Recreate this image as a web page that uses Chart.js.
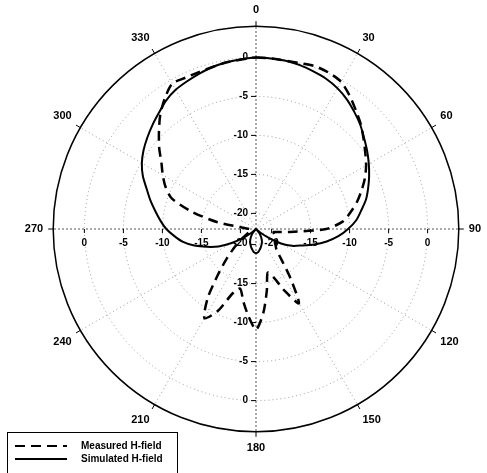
<!DOCTYPE html>
<html>
<head>
<meta charset="utf-8">
<script src="https://cdn.jsdelivr.net/npm/chart.js@4"></script>
<style>
  html, body { margin: 0; padding: 0; background: #fff; }
  #wrap { width: 487px; height: 473px; }
</style>
</head>
<body>
<div id="wrap"><canvas id="polarChart"></canvas></div>
<script>
// angle of each sample, degrees clockwise from top
const angles = [
  0, 5, 10, 15, 20, 25, 30, 35, 40, 45, 50, 55,
  60, 65, 70, 75, 80, 85, 90, 95, 100, 105, 110, 115,
  120, 125, 130, 135, 140, 145, 150, 155, 160, 165, 170, 175,
  180, 185, 190, 195, 200, 205, 210, 215, 220, 225, 230, 235,
  240, 245, 250, 255, 260, 265, 270, 275, 280, 285, 290, 295,
  300, 305, 310, 315, 320, 325, 330, 335, 340, 345, 350, 355
]
const angleTicks = [0, 30, 60, 90, 120, 150, 180, 210, 240, 270, 300, 330]
const radialTicks = [0, -5, -10, -15, -20]

// dB
const measured = [
  0, -0.05, -0.1, 0, 0.2, 0.1, -0.2, -1.1, -2.1, -3.0, -4.0, -4.9,
  -5.7, -6.6, -7.6, -8.6, -9.7, -10.8, -13.0, -17.6, -19.7, -19.6, -19.4, -19.2,
  -19.0, -18.9, -18.7, -18.3, -17.0, -14.3, -11.0, -13.2, -15.4, -16.2, -14.0, -11.2,
  -9.1, -10.8, -12.6, -14.1, -13.2, -10.4, -8.8, -11.2, -14.5, -16.8, -18.5, -19.8,
  -20.6, -21.0, -21.2, -21.3, -21.3, -21.3, -21.2, -20.5, -17.0, -13.5, -10.5, -9.2,
  -8.2, -7.2, -5.8, -4.4, -2.9, -1.6, -0.5, -0.6, -0.6, -0.5, -0.3, -0.2
]
const simulated = [
  0, -0.05, -0.1, -0.25, -0.5, -0.75, -1.15, -1.7, -2.4, -3.1, -3.9, -4.6,
  -5.3, -6.0, -6.7, -7.4, -8.3, -9.1, -10.2, -11.4, -12.8, -14.3, -15.8, -16.9,
  -18.3, -20.0, -21.3, -22.0, -21.5, -21.0, -20.6, -20.2, -19.9, -19.6, -19.3, -19.0,
  -18.9, -19.0, -19.3, -19.6, -19.9, -20.2, -20.6, -21.0, -21.5, -22.0, -21.3, -20.0,
  -18.4, -16.7, -15.3, -13.8, -12.5, -11.5, -10.5, -9.7, -8.9, -8.0, -7.1, -6.0,
  -5.1, -4.4, -3.8, -3.2, -2.6, -1.9, -1.4, -1.1, -0.8, -0.5, -0.3, -0.15
]

const FONT = '"Liberation Sans", Arial, sans-serif'

// axis tick labels on the four main axes, ring ticks and the boxed legend
const polarDecor = {
  id: 'polarDecor',
  beforeDatasetsDraw(chart) {
    const r = chart.scales.r
    const ctx = chart.ctx
    ctx.save()
    ctx.strokeStyle = '#000'
    ctx.fillStyle = '#000'
    ctx.lineWidth = 1
    ctx.font = 'bold 10px ' + FONT

    angleTicks.forEach(a => {
      const i = angles.indexOf(a)
      const p1 = r.getPointPosition(i, r.drawingArea)
      const p2 = r.getPointPosition(i, r.drawingArea + 5)
      ctx.beginPath()
      ctx.moveTo(p1.x, p1.y)
      ctx.lineTo(p2.x, p2.y)
      ctx.stroke()
    })

    ;[0, 90, 180, 270].forEach(a => {
      const i = angles.indexOf(a)
      radialTicks.forEach(v => {
        const p = r.getPointPositionForValue(i, v)
        const txt = String(v)
        const w = ctx.measureText(txt).width
        ctx.beginPath()
        if (a === 0 || a === 180) {
          ctx.fillStyle = '#fff'
          ctx.fillRect(p.x - 9 - w, p.y - 5, w + 2, 10)
          ctx.fillStyle = '#000'
          ctx.moveTo(p.x - 5, p.y)
          ctx.lineTo(p.x, p.y)
          ctx.stroke()
          ctx.textAlign = 'right'
          ctx.textBaseline = 'middle'
          ctx.fillText(txt, p.x - 8, p.y)
        } else {
          ctx.fillStyle = '#fff'
          ctx.fillRect(p.x - w / 2 - 1, p.y + 8, w + 2, 10)
          ctx.fillStyle = '#000'
          ctx.moveTo(p.x, p.y)
          ctx.lineTo(p.x, p.y + 4)
          ctx.stroke()
          ctx.textAlign = 'center'
          ctx.textBaseline = 'top'
          ctx.fillText(txt, p.x, p.y + 9)
        }
      })
    })
    ctx.restore()
  },
  afterDraw(chart) {
    const ctx = chart.ctx
    ctx.save()
    ctx.fillStyle = '#fff'
    ctx.fillRect(7, 432, 171, 45)
    ctx.strokeStyle = '#000'
    ctx.lineWidth = 1
    ctx.strokeRect(7.5, 432.5, 170, 45)
    ctx.font = 'bold 10px ' + FONT
    ctx.textAlign = 'left'
    ctx.textBaseline = 'middle'
    chart.data.datasets.forEach((ds, k) => {
      const y = 446 + k * 13
      ctx.setLineDash(ds.borderDash || [])
      ctx.lineWidth = 2
      ctx.strokeStyle = ds.borderColor
      ctx.beginPath()
      ctx.moveTo(15, y)
      ctx.lineTo(67, y)
      ctx.stroke()
      ctx.setLineDash([])
      ctx.fillStyle = '#000'
      ctx.fillText(ds.label, 81, y)
    })
    ctx.restore()
  }
}

new Chart(document.getElementById('polarChart'), {
  type: 'radar',
  data: {
    labels: angles,
    datasets: [
      {
        label: 'Measured H-field',
        data: measured,
        borderColor: '#000',
        borderWidth: 2.5,
        borderDash: [10, 6],
        fill: false,
        pointRadius: 0,
        tension: 0.25
      },
      {
        label: 'Simulated H-field',
        data: simulated,
        borderColor: '#000',
        borderWidth: 2,
        fill: false,
        pointRadius: 0,
        tension: 0.25
      }
    ]
  },
  options: {
    responsive: true,
    maintainAspectRatio: false,
    animation: false,
    layout: { padding: { left: 20, right: 0, top: 3, bottom: 18 } },
    plugins: {
      legend: { display: false },
      tooltip: { enabled: false }
    },
    scales: {
      r: {
        min: -22,
        max: 4,
        afterBuildTicks: (scale) => {
          scale.ticks = [-20, -15, -10, -5, 0, 4].map(v => ({ value: v }))
        },
        ticks: { display: false },
        grid: {
          circular: true,
          color: (c) => c.tick && c.tick.value === 4 ? '#000' : '#9a9a9a',
          lineWidth: (c) => c.tick && c.tick.value === 4 ? 1.5 : 1
        },
        border: {
          dash: (c) => c.tick && c.tick.value === 4 ? [] : [1, 3]
        },
        angleLines: {
          color: (c) => c.index % 18 === 0 ? '#555' : '#9a9a9a',
          lineWidth: (c) => c.index % 6 === 0 ? 1 : 0,
          borderDash: (c) => c.index % 18 === 0 ? [2, 2] : [1, 3]
        },
        pointLabels: {
          padding: 10,
          color: '#000',
          font: { family: FONT, size: 11, weight: 'bold' },
          callback: (label, index) => index % 6 === 0 ? String(label) : ''
        }
      }
    }
  },
  plugins: [polarDecor]
})
</script>
</body>
</html>
